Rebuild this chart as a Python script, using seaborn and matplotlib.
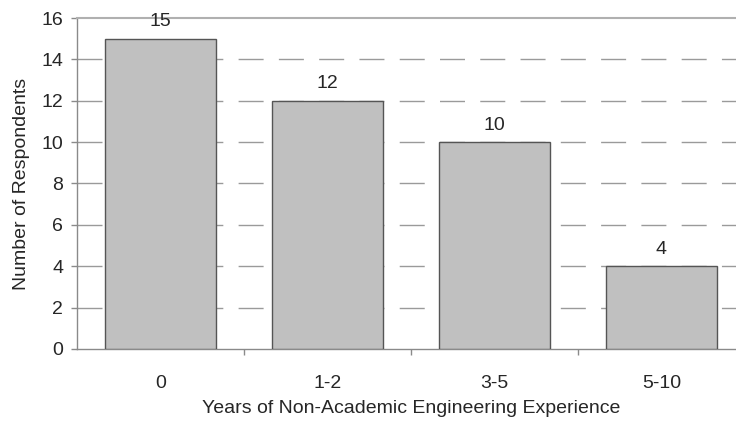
import matplotlib
matplotlib.use("Agg")
import matplotlib.pyplot as plt
import seaborn as sns
import pandas as pd
from matplotlib.ticker import FixedLocator, MultipleLocator

# Survey results: respondents by years of non-academic engineering experience
categories = ["0", "1-2", "3-5", "5-10"]
respondents = [15, 12, 10, 4]

df = pd.DataFrame({"experience": categories, "count": respondents})

sns.set_theme(style="white")
plt.rcParams["font.family"] = ["Liberation Sans", "DejaVu Sans"]

text_color = "#262626"
axis_color = "#8a8a8a"
fs = 14

fig = plt.figure(figsize=(7.36, 4.26), dpi=100)
ax = fig.add_axes([0.1046, 0.1808, 0.9074, 0.7769])

sns.barplot(data=df, x="experience", y="count", order=categories,
            color="#c0c0c0", edgecolor="#555555", linewidth=1.0,
            width=0.665, saturation=1, ax=ax, zorder=3)

ax.set_xlim(-0.5, 3.5)
ax.set_ylim(0, 16)
ax.yaxis.set_major_locator(MultipleLocator(2))

# dashed horizontal gridlines
for y in range(2, 16, 2):
    ax.axhline(y, color="#9a9a9a", lw=1.0, dashes=(18, 11), zorder=1)

# value labels on top of each bar
for cont in ax.containers:
    ax.bar_label(cont, labels=[str(v) for v in respondents], padding=6,
                 fontsize=fs, color=text_color)

for side in ["left", "bottom", "top"]:
    ax.spines[side].set_color(axis_color)
    ax.spines[side].set_linewidth(1.0)
ax.spines["right"].set_visible(False)
ax.spines["top"].set_color("#b0b0b0")
ax.spines["top"].set_linewidth(1.5)

ax.tick_params(axis="y", which="major", left=True, length=4, width=1,
               color=axis_color, labelsize=fs, labelcolor=text_color, pad=6)
ax.tick_params(axis="x", which="major", bottom=False, labelsize=fs,
               labelcolor=text_color, pad=13)
ax.xaxis.set_minor_locator(FixedLocator([0.5, 1.5, 2.5]))
ax.tick_params(axis="x", which="minor", bottom=True, length=4, width=1,
               color=axis_color)

ax.set_xlabel("Years of Non-Academic Engineering Experience", fontsize=fs,
              color=text_color)
ax.set_ylabel("Number of Respondents", fontsize=fs, color=text_color)
ax.xaxis.set_label_coords(0.5, -0.155)
ax.yaxis.set_label_coords(-0.07, 0.5)

fig.savefig("out.png", dpi=100)
